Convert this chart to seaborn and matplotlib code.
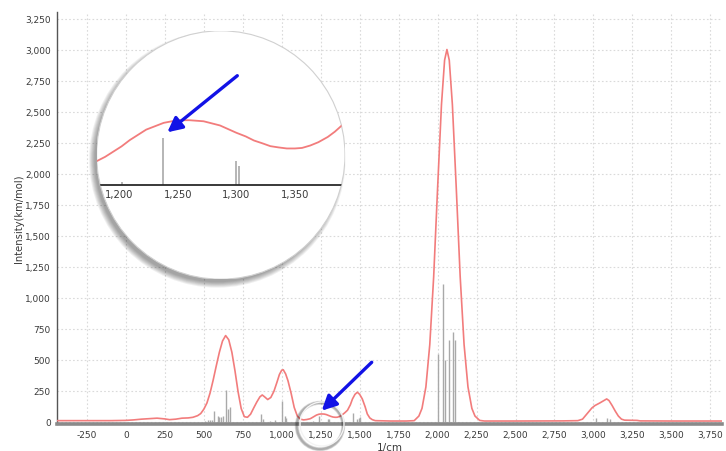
import matplotlib
matplotlib.use("Agg")
import matplotlib.pyplot as plt
import seaborn as sns
import pandas as pd
from matplotlib.patches import Circle, FancyArrowPatch
from matplotlib.transforms import IdentityTransform
from matplotlib.ticker import FuncFormatter

# ---------------- data ----------------
curve_x = [-442, -300, -200, -100, 0, 50, 100, 150, 200, 250, 280, 320, 360, 400, 430,
           460, 480, 500, 520, 540, 560, 580, 600, 620, 640, 660, 680, 700, 720, 740,
           760, 780, 800, 820, 840, 860, 875, 890, 910, 930, 950, 970, 985, 1000, 1010,
           1025, 1040, 1060, 1080, 1100, 1120, 1140, 1160, 1172, 1181, 1188, 1195, 1202,
           1209, 1216, 1223, 1231, 1238, 1245, 1252, 1260, 1266, 1272, 1279, 1286, 1293,
           1300, 1308, 1315, 1322, 1329, 1336, 1343, 1350, 1356, 1363, 1370, 1378, 1384,
           1390, 1405, 1422, 1440, 1454, 1470, 1485, 1500, 1517, 1535, 1549, 1565, 1581,
           1600, 1700, 1800, 1850, 1880, 1900, 1925, 1950, 1975, 2000, 2025, 2045, 2060,
           2075, 2095, 2120, 2145, 2170, 2195, 2220, 2240, 2270, 2300, 2500, 2800, 2900,
           2930, 2960, 2990, 3010, 3040, 3070, 3085, 3100, 3120, 3140, 3160, 3180, 3200,
           3280, 3300, 3500, 3825]
curve_y = [8, 8, 8, 8, 10, 14, 20, 24, 28, 22, 16, 20, 28, 30, 35,
           48, 65, 100, 150, 230, 335, 450, 560, 650, 694, 660, 560, 410, 240, 105,
           40, 35, 60, 110, 158, 200, 215, 200, 178, 195, 245, 320, 380, 415, 418,
           385, 330, 230, 115, 45, 20, 14, 17, 20, 23, 27, 32, 37,
           43, 48, 53, 56.5, 59.5, 61, 62, 62, 61.5, 61, 59, 57, 53.5,
           50, 46.5, 42.6, 40, 37.2, 36, 35, 35, 35.5, 37.8, 41, 46, 51,
           57, 72, 92, 135, 183, 220, 237, 220, 183, 120, 62, 30, 16,
           8, 5, 5, 8, 45, 107, 280, 622, 1170, 1880, 2556, 2914, 3000,
           2914, 2556, 1880, 1170, 622, 280, 107, 45, 10, 5, 5, 6, 8,
           20, 65, 110, 130, 150, 172, 183, 170, 130, 85, 45, 20, 12,
           10, 6, 5, 5]

stick_x = [510, 525, 540, 550, 565, 590, 600, 612, 620, 644, 654, 667,
           868, 880, 925, 960, 1004, 1018, 1025,
           1202, 1237, 1300, 1302,
           1460, 1480, 1495, 1505,
           2003, 2035, 2050, 2072, 2102, 2110,
           3016, 3090, 3105]
stick_h = [8, 10, 12, 15, 84, 48, 40, 38, 48, 257, 105, 120,
           62, 25, 8, 10, 170, 48, 30,
           3, 45, 23, 18,
           70, 25, 30, 40,
           546, 1110, 500, 662, 721, 662,
           27, 30, 20]

x_ticks = [-250, 0, 250, 500, 750, 1000, 1250, 1500, 1750, 2000, 2250, 2500,
           2750, 3000, 3250, 3500, 3750]
y_ticks = [0, 250, 500, 750, 1000, 1250, 1500, 1750, 2000, 2250, 2500, 2750,
           3000, 3250]
inset_ticks = [1200, 1250, 1300, 1350]

x_label = "1/cm"
y_label = "Intensity(km/mol)"

curve = pd.DataFrame({"x": curve_x, "y": curve_y})
sticks = pd.DataFrame({"x": stick_x, "h": stick_h})

# ---------------- style ----------------
sns.set_style("white")
plt.rcParams["font.family"] = ["DejaVu Sans"]

LINE_C = "#f27c7c"
STICK_C = "#a9a9a9"
TXT_C = "#3a3a3a"

W, H = 726, 452
fig = plt.figure(figsize=(W / 100, H / 100), dpi=100)
fmt = FuncFormatter(lambda v, p: f"{int(v):,}")

# ---------------- main axes ----------------
ax = fig.add_axes([57 / W, 27 / H, 665 / W, 411.7 / H], zorder=0)
ax.vlines(sticks["x"], 0, sticks["h"], color=STICK_C, lw=1.0, zorder=2)
sns.lineplot(data=curve, x="x", y="y", ax=ax, color=LINE_C, lw=1.2,
             sort=False, estimator=None, zorder=3)
ax.set_xlim(-442, 3825)
ax.set_ylim(-19, 3300)
ax.set_xticks(x_ticks)
ax.set_yticks(y_ticks)
ax.xaxis.set_major_formatter(fmt)
ax.yaxis.set_major_formatter(fmt)
ax.grid(True, color="#dadada", lw=0.8, linestyle=(0, (1.5, 2)))
ax.tick_params(length=0, labelsize=6.5, colors=TXT_C, pad=4.5)
ax.set_xlabel(x_label, fontsize=7.5, color=TXT_C, labelpad=2)
ax.set_ylabel(y_label, fontsize=7.2, color=TXT_C, labelpad=1)
for s in ["top", "right"]:
    ax.spines[s].set_visible(False)
ax.spines["left"].set_color("#555555")
ax.spines["left"].set_linewidth(1.0)
ax.spines["bottom"].set_color("#8a8a8a")
ax.spines["bottom"].set_linewidth(2.6)

# ---------------- small lens on the main plot ----------------
scx, scy, sr = 322, H - 425, 22
for k in range(5):
    fig.add_artist(Circle((scx - 2, scy - 2), sr + k * 0.6, transform=IdentityTransform(),
                          fill=False, ec="black", lw=1.2, alpha=0.13, zorder=1))
fig.add_artist(Circle((scx, scy), sr, transform=IdentityTransform(),
                      fill=False, ec="#f4f4f4", lw=1.0, zorder=1))

# ---------------- big lens shadow ----------------
cx, cy, R = 220.8, H - 156, 124.2
for k in range(7):
    fig.add_artist(Circle((cx - 3.5, cy - 4.5), R + 4 - k * 0.9, transform=IdentityTransform(),
                          fc="black", ec="none", alpha=0.06, zorder=1))

# ---------------- inset (magnified) axes ----------------
ax2 = fig.add_axes([(cx - R) / W, (cy - R) / H, 2 * R / W, 2 * R / H], zorder=2)
ax2.patch.set_visible(False)
lens = Circle((0.5, 0.5), 0.5, transform=ax2.transAxes, fc="white",
              ec="#d0d0d0", lw=0.8, zorder=0)
ax2.add_patch(lens)
vl = ax2.vlines(sticks["x"], 0, sticks["h"], color=STICK_C, lw=1.2, zorder=2)
vl.set_clip_path(lens)
sns.lineplot(data=curve, x="x", y="y", ax=ax2, color=LINE_C, lw=1.3,
             sort=False, estimator=None, zorder=3)
for ln in ax2.lines:
    ln.set_clip_path(lens)
ax2.set_xlim(1180.7, 1392.7)
ax2.set_ylim(-90, 147.5)
ax2.set_xticks(inset_ticks)
ax2.xaxis.set_major_formatter(fmt)
ax2.set_yticks([])
ax2.set_xlabel("")
ax2.set_ylabel("")
ax2.tick_params(axis="x", length=0, labelsize=7.2, colors=TXT_C, pad=3)
for s in ["top", "right", "left"]:
    ax2.spines[s].set_visible(False)
ax2.spines["bottom"].set_position(("data", 0))
ax2.spines["bottom"].set_color("#2a2a2a")
ax2.spines["bottom"].set_linewidth(1.3)
ax2.spines["bottom"].set_clip_path(lens)
ax2.grid(False)

# ---------------- arrows ----------------
for (x0, y0), (x1, y1) in [((237.3, 76.7), (167.3, 133.3)),
                           ((371.7, 363.3), (321.7, 411.7))]:
    fig.add_artist(FancyArrowPatch((x0, H - y0), (x1, H - y1),
                                   transform=IdentityTransform(),
                                   arrowstyle="-|>", mutation_scale=22,
                                   color="#1212e6", lw=2.4, zorder=5,
                                   shrinkA=0, shrinkB=0))

fig.savefig("out.png", dpi=100)
